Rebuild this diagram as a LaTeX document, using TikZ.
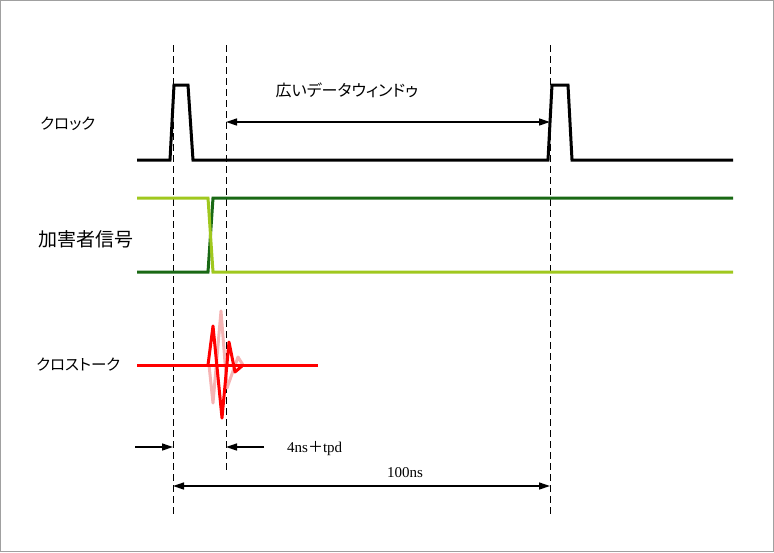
\documentclass[tikz,border=0pt]{standalone}
\usepackage{fontspec}
\setmainfont{Liberation Serif}
\newfontfamily\jp[RawFeature=+palt]{Noto Sans CJK JP}
\usetikzlibrary{arrows.meta}
\definecolor{lightgrn}{RGB}{160,200,30}
\definecolor{darkgrn}{RGB}{25,105,20}
\definecolor{xpink}{RGB}{245,180,180}
\definecolor{framegray}{RGB}{160,160,160}
\tikzset{
  wave/.style={line width=3pt, line join=miter},
  guide/.style={dash pattern=on 7pt off 4pt, line width=0.9pt},
  dim/.style={line width=1.3pt, -{Triangle[length=11pt,width=7pt]}},
  dimboth/.style={line width=1.3pt, {Triangle[length=11pt,width=7pt]}-{Triangle[length=11pt,width=7pt]}},
  jplabel/.style={font=\jp\fontsize{15.5}{18}\selectfont, anchor=west, inner sep=0pt},
  nslabel/.style={font=\fontsize{15}{17}\selectfont, inner sep=0pt}
}

\begin{document}
\begin{tikzpicture}[x=1pt,y=-1pt]
\draw[framegray, line width=1pt] (0.5,0.5) rectangle (773.5,551.5);
\useasboundingbox (0,0) rectangle (774,552);

\coordinate (t0top) at (173,45);
\coordinate (t0bot) at (173,515);
\coordinate (t1top) at (226,45);
\coordinate (t1bot) at (226,470);
\coordinate (t2top) at (550,45);
\coordinate (t2bot) at (550,515);
\draw[guide] (t0top) -- (t0bot);
\draw[guide] (t1top) -- (t1bot);
\draw[guide] (t2top) -- (t2bot);

\node[jplabel] (clk) at (40,124) {クロック};
\node[jplabel, font=\jp\fontsize{19}{21}\selectfont] (agg) at (38,239) {加害者信号};
\node[jplabel] (xtalk) at (36,365) {クロストーク};
\node[jplabel, anchor=center, font=\jp\fontsize{16}{18}\selectfont] (win) at (347,90) {広いデータウィンドゥ};

\draw[wave] (137,160) -- (170,160) -- (174,85) -- (188,85) -- (193,160) -- (548,160) -- (552,85) -- (568,85) -- (572,160) -- (733,160);
\draw[wave, darkgrn] (137,272) -- (208,272) -- (213,198) -- (733,198);
\draw[wave, lightgrn] (137,198) -- (208,198) -- (213,272) -- (733,272);

\draw[wave, xpink, line join=round] (209,365) -- (213,403) -- (221,311) -- (227,388) -- (238,357) -- (243,365);
\draw[wave, red] (137,365) -- (318,365);
\draw[wave, red, line join=round] (208,365) -- (213,326) -- (222,418) -- (229,342) -- (235,372) -- (242,366);

\coordinate (w0) at (226,122);
\coordinate (w1) at (550,122);
\draw[dimboth] (w0) -- (w1);

\coordinate (a0) at (135,447);
\coordinate (a1) at (173,447);
\coordinate (b0) at (264,447);
\coordinate (b1) at (226,447);
\draw[dim] (a0) -- (a1);
\draw[dim] (b0) -- (b1);
\node[nslabel, anchor=west] (tpd) at (287,449) {4ns{\jp ＋}tpd};

\coordinate (c0) at (173,486);
\coordinate (c1) at (550,486);
\draw[dimboth] (c0) -- (c1);
\node[nslabel] (period) at (405,473) {100ns};
\end{tikzpicture}
\end{document}
